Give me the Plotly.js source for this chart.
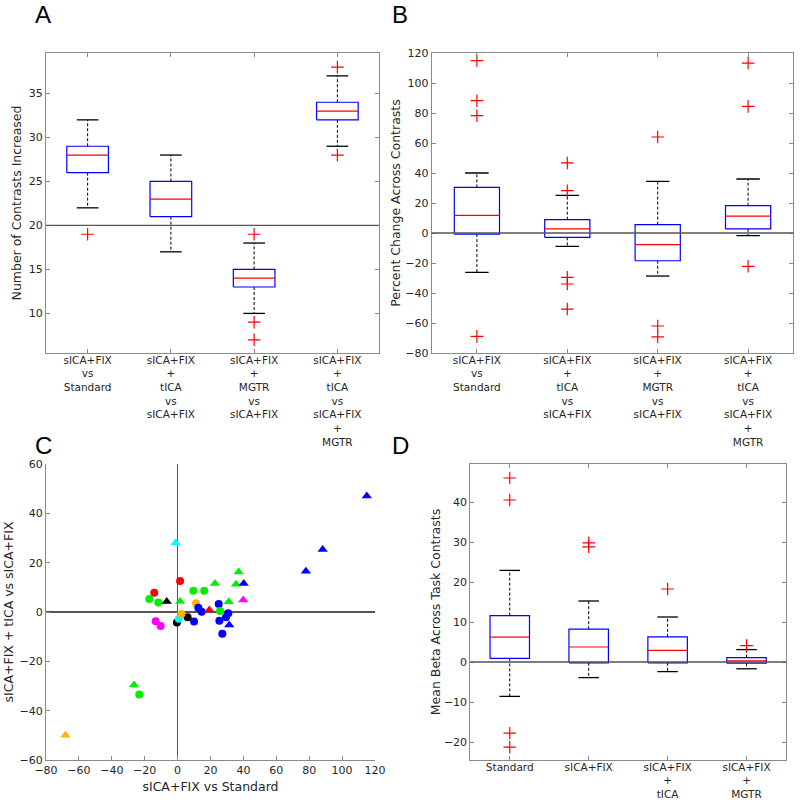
<!DOCTYPE html>
<html><head><meta charset="utf-8">
<script src="https://cdn.plot.ly/plotly-3.0.1.min.js"></script>
<style>html,body{margin:0;padding:0;background:#fff}#chart{width:800px;height:803px}</style>
</head><body><div id="chart"></div>
<script>
// ---------- DATA ----------
// Panel A & B categories
const catsAB = [
  'sICA+FIX<br>vs<br>Standard',
  'sICA+FIX<br>+<br>tICA<br>vs<br>sICA+FIX',
  'sICA+FIX<br>+<br>MGTR<br>vs<br>sICA+FIX',
  'sICA+FIX<br>+<br>tICA<br>vs<br>sICA+FIX<br>+<br>MGTR'
];
// Panel A: Number of Contrasts Increased
const aLo  = [22, 17, 10, 29];
const aQ1  = [26, 21, 13, 32];
const aMed = [28, 23, 14, 33];
const aQ3  = [29, 25, 15, 34];
const aHi  = [32, 28, 18, 37];
const aOut = [[19], [], [19, 9, 7], [38, 28]];
const aRef = 20;

// Panel B: Percent Change Across Contrasts
const bLo  = [-26.2, -8.9, -28.7, -1.8];
const bQ1  = [-0.7, -2.9, -18.5, 2.7];
const bMed = [11.7, 2.7, -7.8, 11.3];
const bQ3  = [30.4, 8.9, 5.6, 18.2];
const bHi  = [40, 25.1, 34.4, 36];
const bOut = [[114.9, 88.2, 78.2, -68.9], [46.7, 28.2, -29.6, -34, -50.7], [64, -62, -69.3], [113.3, 84.4, -22.2]];
const bRef = 0;

// Panel C: scatter
const cX = [1.5, -14.2, -17.2, -11.7, -6.6, 1.5, 9.6, 16.2, 22.7, 37.1, 35.5, 40.2, 39.9, 31.1, 11.2, 25.0, 12.6, 14.6, 19.3, 25.8, 30.8, 29.4, 25.4, 31.4, 27.2, 10.0, 6.1, -0.4, 0.7, 2.2, -13.3, -10.3, 115, 88.2, 78, -1.2, -26.5, -23.3, -68.2];
const cY = [12.6, 7.8, 5.3, 3.9, 4.3, 4.3, 8.6, 8.6, 11.6, 16.2, 11.2, 11.6, 4.9, 4.2, 3.5, 3.2, 1.7, 0.1, 0.8, 0.4, -0.5, -2.1, -3.5, -5.3, -8.8, -3.9, -2.1, -4.3, -2.7, -0.8, -3.8, -5.7, 47, 25.3, 16.5, 28.1, -29.6, -33.4, -50.0];
const cGroup = ['red','red','green','green','black','green','green','green','green','green','green','blue','magenta','green','orange','blue','blue','blue','red','green','blue','blue','blue','blue','blue','blue','black','black','cyan','orange','magenta','magenta','blue','blue','blue','cyan','green','green','orange'];
const cKind = ['circle','circle','circle','circle','triangle','triangle','circle','circle','triangle','triangle','triangle','triangle','triangle','triangle','circle','circle','circle','circle','triangle','circle','circle','circle','circle','triangle','circle','circle','circle','circle','circle','circle','circle','circle','triangle','triangle','triangle','triangle','triangle','circle','triangle'];
const cXTitle = 'sICA+FIX vs Standard';
const cYTitle = 'sICA+FIX + tICA vs sICA+FIX';

// Panel D: Mean Beta Across Task Contrasts
const catsD = ['Standard', 'sICA+FIX', 'sICA+FIX<br>+<br>tICA', 'sICA+FIX<br>+<br>MGTR'];
const dLo  = [-8.6, -3.9, -2.4, -1.7];
const dQ1  = [0.9, -0.2, -0.2, -0.3];
const dMed = [6.2, 3.75, 2.9, 0.3];
const dQ3  = [11.6, 8.2, 6.3, 1.1];
const dHi  = [22.9, 15.25, 11.25, 3.1];
const dOut = [[46, 40.5, -17.8, -21.3], [29.8, 28.8], [18.25], [4.1]];
const dRef = 0;

// ---------- STYLE ----------
const groupColors = {red:'#ff0000', green:'#00ee00', black:'#000000', blue:'#0000ff', magenta:'#ff00ff', orange:'#ffb400', cyan:'#00ffff'};
const kindSymbols = {circle:'circle', triangle:'triangle-up'};
const txt = '#262626';
const frame = '#8a8a8a';
const FONT = 'DejaVu Sans, sans-serif';

function boxTraces(xa, ya, lo, q1, med, q3, hi, out) {
  const pos = q1.map((_, i) => i + 1);
  const half = 0.25, cap = 0.13;
  const bx = [], by = [], wx = [], wy = [], cx = [], cy = [], mx = [], my = [], ox = [], oy = [];
  pos.forEach((p, i) => {
    bx.push(p - half, p + half, p + half, p - half, p - half, null);
    by.push(q1[i], q1[i], q3[i], q3[i], q1[i], null);
    wx.push(p, p, null, p, p, null); wy.push(q3[i], hi[i], null, q1[i], lo[i], null);
    cx.push(p - cap, p + cap, null, p - cap, p + cap, null); cy.push(hi[i], hi[i], null, lo[i], lo[i], null);
    mx.push(p - half, p + half, null); my.push(med[i], med[i], null);
    out[i].forEach(v => { ox.push(p); oy.push(v); });
  });
  const common = {xaxis:xa, yaxis:ya, showlegend:false, hoverinfo:'skip'};
  return [
    Object.assign({type:'scatter', mode:'lines', x:wx, y:wy, line:{color:'#000', width:1, dash:'3px,2px'}}, common),
    Object.assign({type:'scatter', mode:'lines', x:cx, y:cy, line:{color:'#000', width:1.3}}, common),
    Object.assign({type:'scatter', mode:'lines', x:bx, y:by, line:{color:'#0000ff', width:1.2}}, common),
    Object.assign({type:'scatter', mode:'lines', x:mx, y:my, line:{color:'#ff0000', width:1.2}}, common),
    Object.assign({type:'scatter', mode:'markers', x:ox, y:oy, marker:{symbol:'cross-thin', size:9, line:{color:'#ff0000', width:1.2}}}, common)
  ];
}

const data = [].concat(
  boxTraces('x', 'y', aLo, aQ1, aMed, aQ3, aHi, aOut),
  boxTraces('x2', 'y2', bLo, bQ1, bMed, bQ3, bHi, bOut),
  boxTraces('x4', 'y4', dLo, dQ1, dMed, dQ3, dHi, dOut)
);
data.push({type:'scatter', mode:'markers', x:cX, y:cY, xaxis:'x3', yaxis:'y3', showlegend:false,
  marker:{opacity:1, size:cKind.map(k => k === 'circle' ? 8 : 9), color:cGroup.map(g => groupColors[g]),
    symbol:cKind.map(k => kindSymbols[k]), line:{width:0}}});

const tickFont = {family:FONT, size:11, color:txt};
const xTickFont = {family:FONT, size:10.5, color:txt};
const titleFont = {family:FONT, size:12.5, color:txt};
function boxX(domain, anchor, ticktext) {
  return {domain:domain, anchor:anchor, range:[0.5, 4.5], tickvals:[1,2,3,4], ticktext:ticktext,
    ticks:'inside', ticklen:4, tickcolor:frame, showline:true, linecolor:frame, linewidth:1, mirror:'ticks',
    showgrid:false, zeroline:false, tickfont:xTickFont, ticklabelstandoff:-3};
}
function boxY(domain, anchor, range, dtick, title, standoff) {
  return {domain:domain, anchor:anchor, range:range, dtick:dtick, ticks:'inside', ticklen:4, tickcolor:frame,
    showline:true, linecolor:frame, linewidth:1, mirror:'ticks', showgrid:false, zeroline:false,
    tickfont:tickFont, title:{text:title, font:titleFont, standoff:standoff}};
}
const W = 800, H = 803;
const dx = (a, b) => [a / W, b / W];
const dy = (top, bot) => [1 - bot / H, 1 - top / H];

const layout = {
  width:W, height:H, margin:{l:0, r:0, t:0, b:0}, paper_bgcolor:'#fff', plot_bgcolor:'#fff',
  font:{family:FONT, color:txt}, showlegend:false,
  xaxis: boxX(dx(46, 379), 'y', catsAB),
  yaxis: boxY(dy(53, 353), 'x', [5.5, 39.6], 5, 'Number of Contrasts Increased', 4),
  xaxis2: boxX(dx(431.7, 793.3), 'y2', catsAB),
  yaxis2: boxY(dy(53, 353), 'x2', [-80, 120], 20, 'Percent Change Across Contrasts', 1),
  xaxis3: {domain:dx(46, 375), anchor:'y3', range:[-80, 120], dtick:20, ticks:'inside', ticklen:4, tickcolor:frame,
    showline:true, linecolor:frame, mirror:false, showgrid:false, zeroline:true, zerolinecolor:'#555', zerolinewidth:1.3,
    tickfont:tickFont, title:{text:cXTitle, font:titleFont, standoff:6}},
  yaxis3: {domain:dy(464, 760), anchor:'x3', range:[-60, 60], dtick:20, ticks:'inside', ticklen:4, tickcolor:frame,
    showline:true, linecolor:frame, mirror:false, showgrid:false, zeroline:true, zerolinecolor:'#555', zerolinewidth:1.3,
    tickfont:tickFont, title:{text:cYTitle, font:titleFont, standoff:3}},
  xaxis4: boxX(dx(470.3, 786), 'y4', catsD),
  yaxis4: boxY(dy(464, 760), 'x4', [-24.5, 49.5], 10, 'Mean Beta Across Task Contrasts', 0),
  shapes: [
    {type:'line', xref:'x domain', yref:'y', x0:0, x1:1, y0:aRef, y1:aRef, line:{color:'#555', width:1.3}},
    {type:'line', xref:'x2 domain', yref:'y2', x0:0, x1:1, y0:bRef, y1:bRef, line:{color:'#555', width:1.3}},
    {type:'line', xref:'x4 domain', yref:'y4', x0:0, x1:1, y0:dRef, y1:dRef, line:{color:'#555', width:1.3}}
  ],
  annotations: [
    {text:'A', x:43/W, y:1-15/H},
    {text:'B', x:400/W, y:1-15/H},
    {text:'C', x:43/W, y:1-445/H},
    {text:'D', x:400/W, y:1-445/H}
  ].map(a => Object.assign(a, {xref:'paper', yref:'paper', xanchor:'center', yanchor:'middle', showarrow:false,
    font:{family:'Liberation Sans, Arial, sans-serif', size:24, color:'#000'}}))
};

Plotly.newPlot('chart', data, layout, {staticPlot:true});
</script>
</body></html>
